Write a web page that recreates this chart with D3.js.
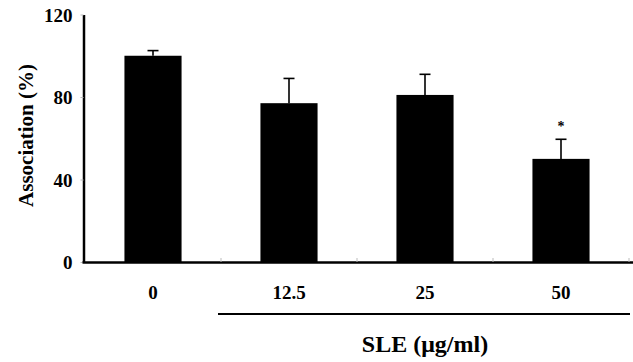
<!DOCTYPE html>
<html>
<head>
<meta charset="utf-8">
<script src="https://cdn.jsdelivr.net/npm/d3@7"></script>
<style>
  html, body { margin: 0; padding: 0; background: #fff; }
  svg { display: block; }
  text { font-family: "Liberation Serif", "Times New Roman", serif; font-weight: bold; fill: #000; }
</style>
</head>
<body>
<svg id="chart" width="633" height="362"></svg>
<script>
const categories = ["0", "12.5", "25", "50"];
const values = [100, 77, 81, 50];
const errors = [2.5, 12, 10, 9.5];
const significance = ["", "", "", "*"];
const yTicks = [0, 40, 80, 120];
const yTitle = "Association (%)";
const xTitle = "SLE (\u03bcg/ml)";

const svg = d3.select("#chart");
const W = 633;
const yAxisX = 83.5;
const y = d3.scaleLinear().domain([0, 120]).range([262, 14.5]);
const x = d3.scaleBand().domain(categories).range([85, 629]).padding(0);
const barW = x.bandwidth() * 0.42;

// bars
svg.append("g").selectAll("rect").data(categories).join("rect")
  .attr("x", (d) => x(d) + x.bandwidth() / 2 - barW / 2)
  .attr("y", (d, i) => y(values[i]))
  .attr("width", barW)
  .attr("height", (d, i) => y(0) - y(values[i]))
  .attr("fill", "#000");

// error bars (upper only)
const eg = svg.append("g").attr("stroke", "#000").attr("stroke-width", 1.6);
categories.forEach((c, i) => {
  const cx = x(c) + x.bandwidth() / 2;
  eg.append("line").attr("x1", cx).attr("x2", cx)
    .attr("y1", y(values[i])).attr("y2", y(values[i] + errors[i]));
  eg.append("line").attr("x1", cx - 5.5).attr("x2", cx + 5.5)
    .attr("y1", y(values[i] + errors[i])).attr("y2", y(values[i] + errors[i]));
});

// significance
svg.append("g").selectAll("text").data(categories).join("text")
  .attr("x", (d) => x(d) + x.bandwidth() / 2)
  .attr("y", (d, i) => y(values[i] + errors[i]) - 8)
  .attr("text-anchor", "middle")
  .attr("font-size", 14)
  .text((d, i) => significance[i]);

// y axis
const yAxis = d3.axisLeft(y).tickValues(yTicks).tickSize(3).tickPadding(8).tickSizeOuter(0);
const yg = svg.append("g").attr("transform", `translate(${yAxisX},0)`).call(yAxis);
yg.select(".domain").attr("stroke", "#000").attr("stroke-width", 2.5);
yg.selectAll(".tick line").attr("stroke", "#bbb").attr("stroke-width", 1);
yg.selectAll(".tick text").attr("font-size", 19).attr("font-family", "Liberation Serif").attr("font-weight", "bold").attr("dy", "0.35em");

// x axis baseline
svg.append("line").attr("x1", yAxisX - 1).attr("x2", W)
  .attr("y1", y(0) + 0.5).attr("y2", y(0) + 0.5)
  .attr("stroke", "#000").attr("stroke-width", 2.5);

// x ticks at band boundaries (small, faint)
svg.append("g").selectAll("line").data(categories).join("line")
  .attr("x1", (d) => x(d) + x.bandwidth()).attr("x2", (d) => x(d) + x.bandwidth())
  .attr("y1", y(0) - 4).attr("y2", y(0))
  .attr("stroke", "#bbb").attr("stroke-width", 1);

// x labels
svg.append("g").selectAll("text").data(categories).join("text")
  .attr("x", (d) => x(d) + x.bandwidth() / 2)
  .attr("y", 299)
  .attr("text-anchor", "middle")
  .attr("font-size", 19)
  .text((d) => d);

// underline for SLE group
const g2 = categories.slice(1);
svg.append("line")
  .attr("x1", x(g2[0]) - 3).attr("x2", x.range()[1] + 1)
  .attr("y1", 314).attr("y2", 314)
  .attr("stroke", "#000").attr("stroke-width", 2.2);

// x title
svg.append("text")
  .attr("x", (x(g2[0]) + x.range()[1]) / 2)
  .attr("y", 352)
  .attr("text-anchor", "middle")
  .attr("font-size", 24)
  .text(xTitle);

// y title
svg.append("text")
  .attr("transform", `translate(33,135.5) rotate(-90)`)
  .attr("text-anchor", "middle")
  .attr("font-size", 21)
  .text(yTitle);
</script>
</body>
</html>
